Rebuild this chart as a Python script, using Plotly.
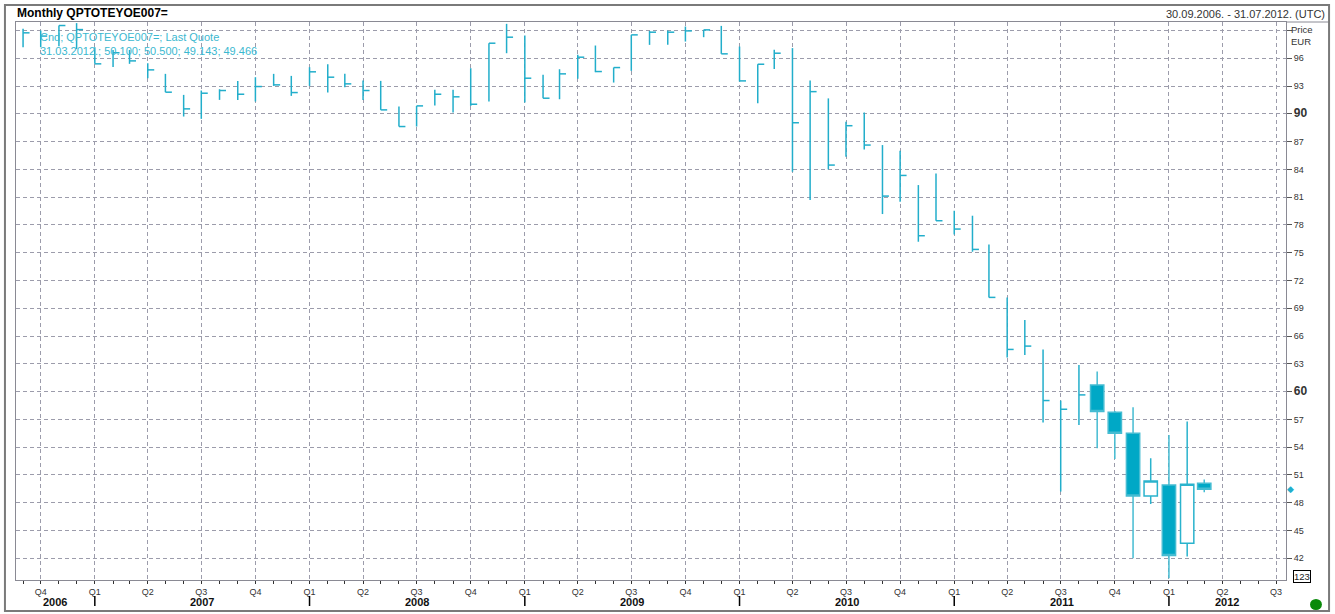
import datetime as dt
import pandas as pd
import plotly.graph_objects as go

# ---------------- data (monthly, EUR) ----------------
# Sep 2006 - Aug 2011: only high / low / close available
bar_high = [99.18, 99.0, 99.54, 99.8, 97.2, 96.9, 96.9, 95.47, 94.32, 92.05, 92.52, 92.66,
            93.56, 93.96, 94.32, 94.1, 95.04, 95.36, 94.32, 93.6, 93.56, 90.79, 90.86, 92.59,
            92.59, 94.93, 97.63, 99.72, 98.46, 94.21, 94.82, 96.37, 97.38, 95.0, 98.53, 98.96,
            99.0, 99.43, 99.07, 99.5, 97.27, 95.36, 96.91, 97.1, 93.6, 91.67, 89.15, 90.16,
            86.63, 86.02, 82.31, 83.57, 79.54, 79.0, 75.9, 70.18, 67.73, 64.56, 59.04, 62.89]
bar_low = [97.2, 97.2, 97.3, 97.0, 95.4, 95.05, 95.4, 93.85, 92.34, 89.71, 89.46, 91.51,
           91.51, 91.33, 93.02, 91.94, 93.02, 92.3, 92.88, 91.51, 90.43, 88.63, 88.63, 90.9,
           90.14, 90.86, 91.33, 96.55, 91.22, 91.69, 91.58, 93.78, 94.5, 93.38, 94.64, 97.45,
           97.45, 97.81, 98.28, 96.48, 93.49, 91.15, 94.85, 83.75, 80.69, 84.0, 85.37, 86.16,
           79.18, 80.51, 76.19, 78.46, 76.98, 75.11, 70.18, 63.7, 63.95, 56.66, 49.21, 56.41]
bar_close = [98.75, 98.4, 99.54, 99.1, 95.4, 96.6, 95.72, 94.75, 92.34, 90.54, 92.23, 92.52,
             92.12, 92.95, 93.13, 92.3, 94.54, 93.96, 93.24, 92.52, 90.43, 88.63, 90.86, 92.12,
             91.84, 91.04, 97.63, 98.28, 93.85, 91.69, 94.32, 96.12, 94.57, 95.0, 98.53, 98.82,
             98.82, 98.96, 99.07, 96.48, 93.56, 95.36, 96.55, 89.04, 92.4, 84.47, 88.72, 86.63,
             81.12, 83.35, 76.84, 78.46, 77.56, 75.36, 70.18, 64.56, 64.92, 59.04, 58.1, 59.65]

# Sep 2011 - Mar 2012: full OHLC
cdl_open = [60.73, 57.78, 55.51, 48.74, 49.93, 43.63, 50.100]
cdl_high = [62.17, 57.9, 58.32, 52.81, 55.33, 56.77, 50.500]
cdl_low = [53.89, 52.74, 42.0, 47.88, 39.85, 42.19, 49.143]
cdl_close = [57.85, 55.51, 48.74, 50.36, 42.3, 50.0, 49.466]

bar_months = pd.date_range("2006-09-01", periods=len(bar_close), freq="MS")
cdl_months = pd.date_range("2011-09-01", periods=len(cdl_close), freq="MS")

quarters = pd.date_range("2006-10-01", "2012-07-01", freq="QS")
quarter_labels = ["Q%d" % q.quarter for q in quarters]
all_months = pd.date_range("2006-09-01", "2012-07-01", freq="MS")
years = [2006, 2007, 2008, 2009, 2010, 2011, 2012]
y_ticks = list(range(42, 100, 3))

x_start = pd.Timestamp("2006-08-20")
x_end = pd.Timestamp("2012-07-18")

BAR_COLOR = "#22aecb"
GRID = "#9c9cab"
FONT = "Liberation Sans, Arial, sans-serif"

# ---------------- HLC bars (vertical range + right close tick) ----------------
tick_len = dt.timedelta(days=11)
xs, ys = [], []
for d, h, l, c in zip(bar_months, bar_high, bar_low, bar_close):
    xs += [d, d, None, d, d + tick_len, None]
    ys += [l, h, None, c, c, None]

fig = go.Figure()
fig.add_trace(go.Scatter(x=xs, y=ys, mode="lines",
                         line=dict(color=BAR_COLOR, width=1.5),
                         hoverinfo="skip", showlegend=False))

fig.add_trace(go.Candlestick(
    x=cdl_months, open=cdl_open, high=cdl_high, low=cdl_low, close=cdl_close,
    increasing=dict(fillcolor="#ffffff", line=dict(color="#2ab3cd", width=1.5)),
    decreasing=dict(fillcolor="#00a8c6", line=dict(color="#45bcd2", width=1.5)),
    whiskerwidth=0, showlegend=False))

# ---------------- axes ----------------
y_text = []
for v in y_ticks:
    if v in (60, 90):
        y_text.append("<b><span style='font-size:12px'>%d</span></b>" % v)
    elif v == 99:
        y_text.append("")
    else:
        y_text.append(str(v))

fig.update_layout(
    template="none",
    width=1335, height=614,
    margin=dict(l=16, r=49, t=22, b=34, autoexpand=False),
    paper_bgcolor="white", plot_bgcolor="white",
    font=dict(family=FONT, size=9, color="#333333"),
    boxgap=0.22, boxgroupgap=0,
    xaxis=dict(
        type="date", range=[x_start, x_end], automargin=False,
        tickmode="array", tickvals=quarters, ticktext=quarter_labels,
        ticks="outside", ticklen=3, tickcolor="#333333",
        showgrid=True, gridcolor=GRID, griddash="4px,3px", gridwidth=1,
        showline=True, linecolor="#8a8a94", linewidth=1, mirror=True,
        zeroline=False, rangeslider=dict(visible=False),
        tickfont=dict(size=9, color="#333333"),
        minor=dict(tickmode="array", tickvals=all_months, ticks="outside",
                   ticklen=3, tickcolor="#333333", showgrid=False),
    ),
    yaxis=dict(
        side="right", range=[39.66, 99.92], automargin=False,
        tickmode="array", tickvals=y_ticks, ticktext=y_text,
        ticks="outside", ticklen=5, tickcolor="#555555",
        showgrid=True, gridcolor=GRID, griddash="4px,3px", gridwidth=1,
        showline=True, linecolor="#8a8a94", linewidth=1, mirror=True,
        zeroline=False, tickfont=dict(size=9, color="#333333"),
    ),
)

# ---------------- year labels & separators ----------------
for yr in years:
    y0 = max(pd.Timestamp("%d-01-01" % yr), x_start)
    y1 = min(pd.Timestamp("%d-01-01" % (yr + 1)), x_end)
    mid = y0 + (y1 - y0) / 2
    fig.add_annotation(x=mid, y=0, xref="x", yref="paper", yanchor="top", yshift=-14,
                       text="<b>%d</b>" % yr, showarrow=False,
                       font=dict(size=11, color="#111111", family=FONT))
    sep = pd.Timestamp("%d-01-01" % yr)
    if x_start < sep < x_end:
        fig.add_shape(type="line", xref="x", yref="paper", x0=sep, x1=sep,
                      y0=-0.0287, y1=-0.0466, line=dict(color="#000000", width=1.5))

# ---------------- header / legend texts ----------------
fig.add_annotation(x=0, y=1, xref="paper", yref="paper", xanchor="left", yanchor="bottom",
                   xshift=-1, yshift=0, text="<b>Monthly QPTOTEYOE007=</b>", showarrow=False,
                   font=dict(size=12, color="#000000", family=FONT))
fig.add_annotation(x=1.0323, y=1, xref="paper", yref="paper", xanchor="right", yanchor="bottom",
                   yshift=0, text="30.09.2006. - 31.07.2012. (UTC)", showarrow=False,
                   font=dict(size=11, color="#333333", family=FONT))
fig.add_annotation(x=0, y=1, xref="paper", yref="paper", xanchor="left", yanchor="top",
                   xshift=22, yshift=-7, align="left",
                   text="Cnd; QPTOTEYOE007=; Last Quote<br>31.03.2012.; %.3f; %.3f; %.3f; %.3f"
                        % (cdl_open[-1], cdl_high[-1], cdl_low[-1], cdl_close[-1]),
                   showarrow=False, font=dict(size=11, color="#3bb8d0", family=FONT))
fig.add_annotation(x=1, y=1, xref="paper", yref="paper", xanchor="left", yanchor="top",
                   xshift=3, yshift=0, align="left", text="Price<br>EUR", showarrow=False,
                   font=dict(size=9.5, color="#333333", family=FONT))

# last value marker
fig.add_annotation(x=1, y=cdl_close[-1], xref="paper", yref="y", xanchor="center",
                   xshift=4, text="\u25c6", showarrow=False,
                   font=dict(size=9, color="#22aecb"))
# "123" box
fig.add_annotation(x=1, y=0, xref="paper", yref="paper", xanchor="left", yanchor="middle",
                   xshift=7, yshift=4, text="123", showarrow=False, bordercolor="#000000",
                   borderwidth=1, borderpad=0, bgcolor="white",
                   font=dict(size=9.5, color="#222222", family=FONT))
# green status dot
fig.add_shape(type="circle", xref="paper", yref="paper", x0=1.0189, x1=1.0283,
              y0=-0.0538, y1=-0.034, fillcolor="#0a8a0a", line=dict(color="#0a8a0a", width=0))

# extended top line and outer frame
fig.add_shape(type="line", xref="paper", yref="paper", x0=1, x1=1.0339, y0=1, y1=1,
              line=dict(color="#8a8a94", width=1))
fig.add_shape(type="rect", xref="paper", yref="paper", x0=-0.0087, x1=1.0339,
              y0=-0.0556, y1=1.0305, line=dict(color="#7a7a7a", width=2))

fig.write_html("out.html",
               config={"displayModeBar": False},
               post_script="document.body.style.margin='0px';"
                           "document.body.style.overflow='hidden';")
